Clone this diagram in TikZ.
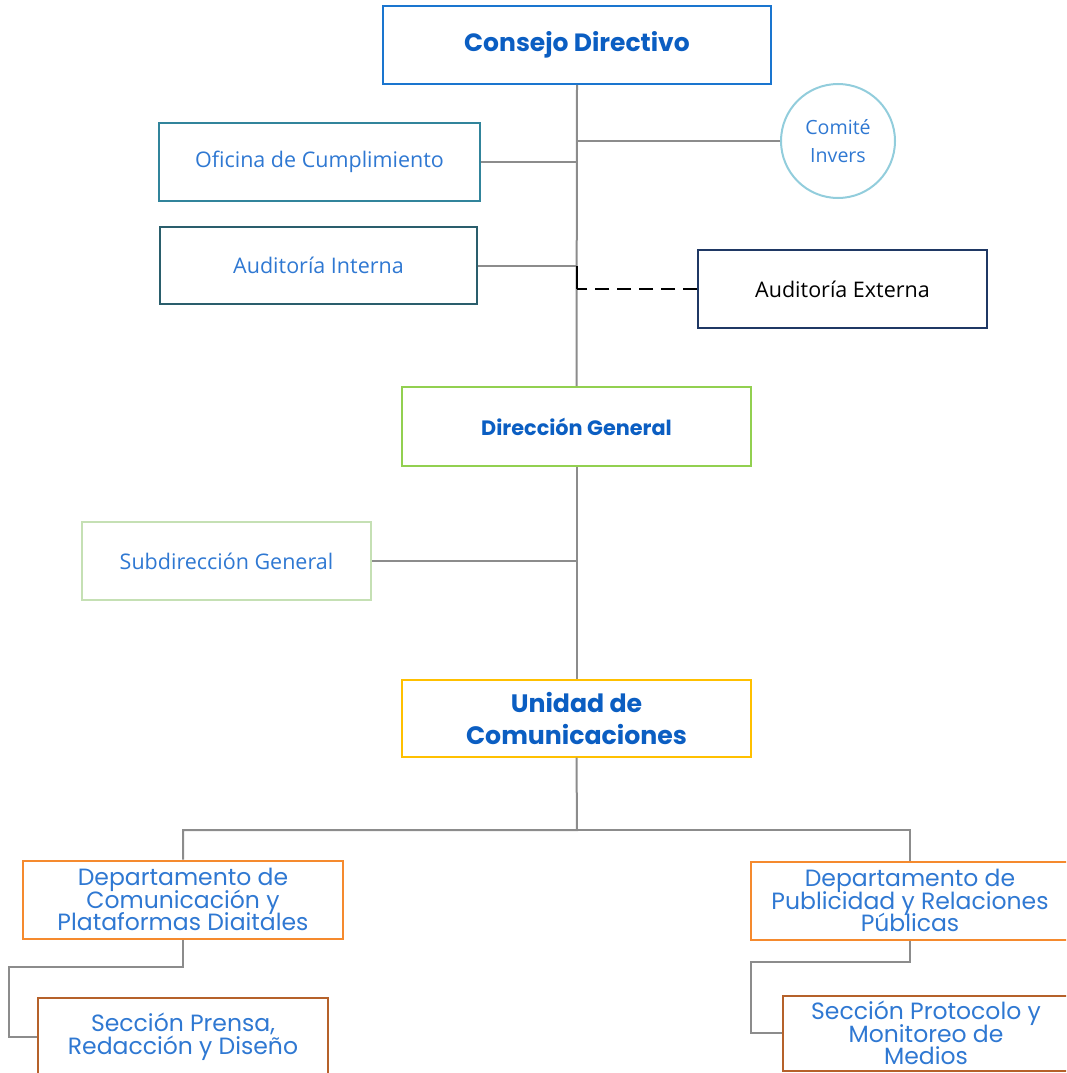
\documentclass[tikz,border=0pt]{standalone}
\usepackage{fontspec}
\setmainfont{Poppins}
\newfontfamily\lightfont{Open Sans}
\usetikzlibrary{positioning}
\setlength{\lineskiplimit}{-50pt}
\definecolor{txtblue}{HTML}{0B5EC2}
\definecolor{lightblue}{HTML}{2F78D2}
\definecolor{cdborder}{HTML}{1A75CF}
\definecolor{ofborder}{HTML}{31849B}
\definecolor{aiborder}{HTML}{2A5E6C}
\definecolor{ciborder}{HTML}{92CDDC}
\definecolor{aeborder}{HTML}{1F3864}
\definecolor{dgborder}{HTML}{92D050}
\definecolor{sgborder}{HTML}{C5E0B4}
\definecolor{ucborder}{HTML}{FFC000}
\definecolor{dborder}{HTML}{F58A2E}
\definecolor{sborder}{HTML}{B5612A}
\definecolor{linegray}{HTML}{8C8C8C}
\tikzset{
  box/.style={draw, line width=2pt, rectangle, align=center, inner sep=0pt},
  lighttext/.style={font=\lightfont\fontsize{21.5}{28}\selectfont, text=lightblue},
  boldtext/.style={font=\bfseries\fontsize{25}{32}\selectfont, text=txtblue},
  depttext/.style={font=\fontsize{23.5}{22.7}\selectfont, text=lightblue},
  conn/.style={draw=linegray, line width=2pt},
  dashconn/.style={draw=black, line width=2pt, dash pattern=on 14pt off 8pt}
}
\begin{document}
\begin{tikzpicture}[x=1pt,y=-1pt]
\useasboundingbox (0,0) rectangle (1066,1073);
\clip (0,0) rectangle (1066,1073);
% nodes
\node[box, draw=cdborder, minimum width=388pt, minimum height=78pt, boldtext] (cd) at (577,45) {Consejo Directivo};
\node[box, draw=ofborder, minimum width=321pt, minimum height=78pt, lighttext] (of) at (319.5,162) {Oficina de Cumplimiento};
\node[box, draw=aiborder, minimum width=317pt, minimum height=77pt, lighttext] (ai) at (318.5,265.5) {Auditoría Interna};
\node[draw=ciborder, line width=2pt, circle, minimum size=114pt, inner sep=0pt, align=center, lighttext, font=\lightfont\fontsize{19.6}{28}\selectfont] (ci) at (838,141) {Comité\\Invers};
\node[box, draw=aeborder, minimum width=289pt, minimum height=78pt, lighttext, text=black] (ae) at (842.5,289) {Auditoría Externa};
\node[box, draw=dgborder, minimum width=349pt, minimum height=79pt, boldtext, font=\bfseries\fontsize{20.8}{24}\selectfont] (dg) at (576.5,426.5) {Dirección General};
\node[box, draw=sgborder, minimum width=289pt, minimum height=78pt, lighttext] (sg) at (226.5,561) {Subdirección General};
\node[box, draw=ucborder, minimum width=349pt, minimum height=77pt, boldtext, font=\bfseries\fontsize{25.2}{32}\selectfont] (uc) at (576.5,718) {Unidad de\\Comunicaciones};
\node[box, draw=dborder, minimum width=320pt, minimum height=78pt, depttext] (dc) at (183,899.5) {Departamento de\\Comunicación y\\Plataformas Diaitales};
\node[box, draw=dborder, minimum width=318pt, minimum height=78pt, depttext] (dp) at (910,900.5) {Departamento de\\Publicidad y Relaciones\\Públicas};
\node[box, draw=sborder, minimum width=290pt, minimum height=78pt, depttext] (sp) at (183,1036.5) {Sección Prensa,\\Redacción y Diseño};
\node[box, draw=sborder, minimum width=286pt, minimum height=75pt, depttext] (sm) at (926,1033) {Sección Protocolo y\\Monitoreo de\\Medios};
% junctions
\coordinate (j1) at (577,830);
\coordinate (k1) at (9,967);
\coordinate (k2) at (751,962);
% connectors
\draw[conn] (cd.south) -- (dg.north);
\draw[conn] (of.east) -- (of.east -| cd.south);
\draw[conn] (ai.east) -- (ai.east -| cd.south);
\draw[conn] (ci.west) -- (ci.west -| cd.south);
\draw[dashconn] (ae.west) -- (ae.west -| cd.south);
\draw[draw=black, line width=2pt] (ae.west -| cd.south) -- (ai.east -| cd.south);
\draw[conn] (dg.south) -- (uc.north);
\draw[conn] (sg.east) -- (sg.east -| dg.south);
\draw[conn] (uc.south) -- (j1) -| (dc.north);
\draw[conn] (j1) -| (dp.north);
\draw[conn] (dc.south) |- (k1) |- (sp.west);
\draw[conn] (dp.south) |- (k2) |- (sm.west);
\end{tikzpicture}
\end{document}
